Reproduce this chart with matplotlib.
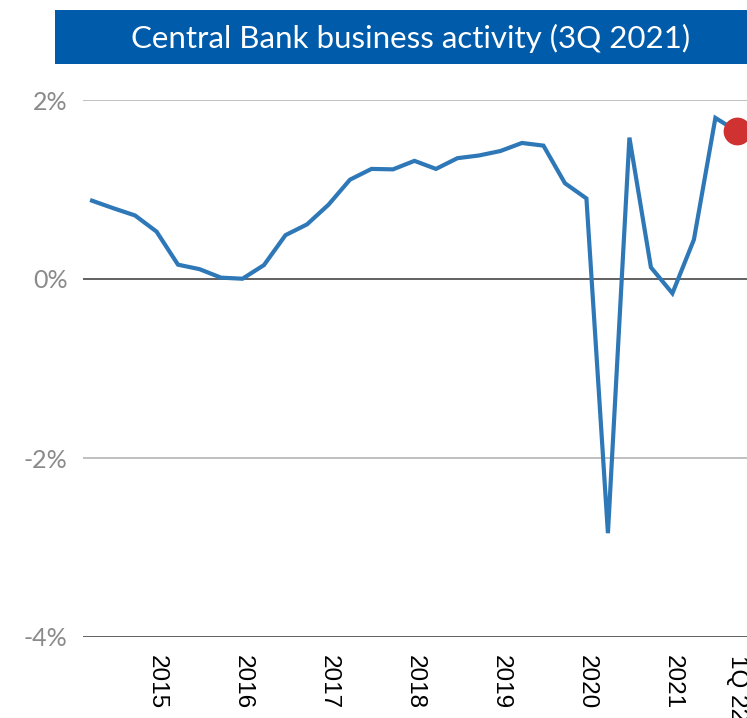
#!/usr/bin/env python
""" Central Bank business activity line chart """

import matplotlib as mpl
import matplotlib.pyplot as plt
from matplotlib.patches import Rectangle

mpl.rcParams["font.family"] = ["Lato", "DejaVu Sans"]

# Quarterly readings, 3Q 2014 through 1Q 2022 (percent)
activity = [
    0.875, 0.79, 0.71, 0.53, 0.16, 0.11, 0.015, 0.003,
    0.156, 0.49, 0.61, 0.83, 1.11, 1.23, 1.225, 1.32,
    1.23, 1.35, 1.38, 1.43, 1.52, 1.49, 1.07, 0.90,
    -2.84, 1.58, 0.13, -0.16, 0.44, 1.80, 1.65,
]
tick_pos = [3, 7, 11, 15, 19, 23, 27, 30]
tick_labels = ["2015", "2016", "2017", "2018", "2019", "2020", "2021", "1Q 22"]
y_ticks = [2, 0, -2, -4]
y_labels = ["2%", "0%", "-2%", "-4%"]
title = "Central Bank business activity (3Q 2021)"


def main():
    """ Main function """
    fig = plt.figure(figsize=(7.47, 7.18), dpi=100)
    W, H = 747, 718

    # Title banner
    fig.patches.append(
        Rectangle((55 / W, 1 - 64 / H), (W - 55) / W, 54 / H,
                  transform=fig.transFigure, facecolor="#005BAA",
                  edgecolor="none")
    )
    fig.text(411 / W, 1 - 38 / H, title, color="white", fontsize=22.5,
             ha="center", va="center")

    ax = fig.add_axes([83 / W, 1 - 637 / H, (W - 83) / W, 537 / H])
    x = list(range(len(activity)))
    ax.plot(x, activity, color="#2E78B7", lw=3, solid_joinstyle="miter",
            zorder=3)
    ax.plot(x[-1], activity[-1], "o", color="#D03232", ms=19, zorder=4)

    ax.set_xlim(-0.42, 30.47)
    ax.set_ylim(-4, 2)

    for v in y_ticks:
        c = "#555555" if v in (0, -4) else "#BBBBBB"
        ax.axhline(v, color=c, lw=1.3, zorder=1)

    for s in ax.spines.values():
        s.set_visible(False)

    ax.set_yticks(y_ticks)
    ax.set_yticklabels(y_labels, color="#8A8A8A", fontsize=18)
    ax.tick_params(axis="y", length=0, pad=11)

    ax.set_xticks(tick_pos)
    ax.set_xticklabels(tick_labels, rotation=270, fontsize=17.5,
                       family=["Liberation Sans"], va="top", ha="center")
    ax.tick_params(axis="x", length=0, pad=13)

    plt.savefig("out.png", dpi=100)


if __name__ == "__main__":
    main()
